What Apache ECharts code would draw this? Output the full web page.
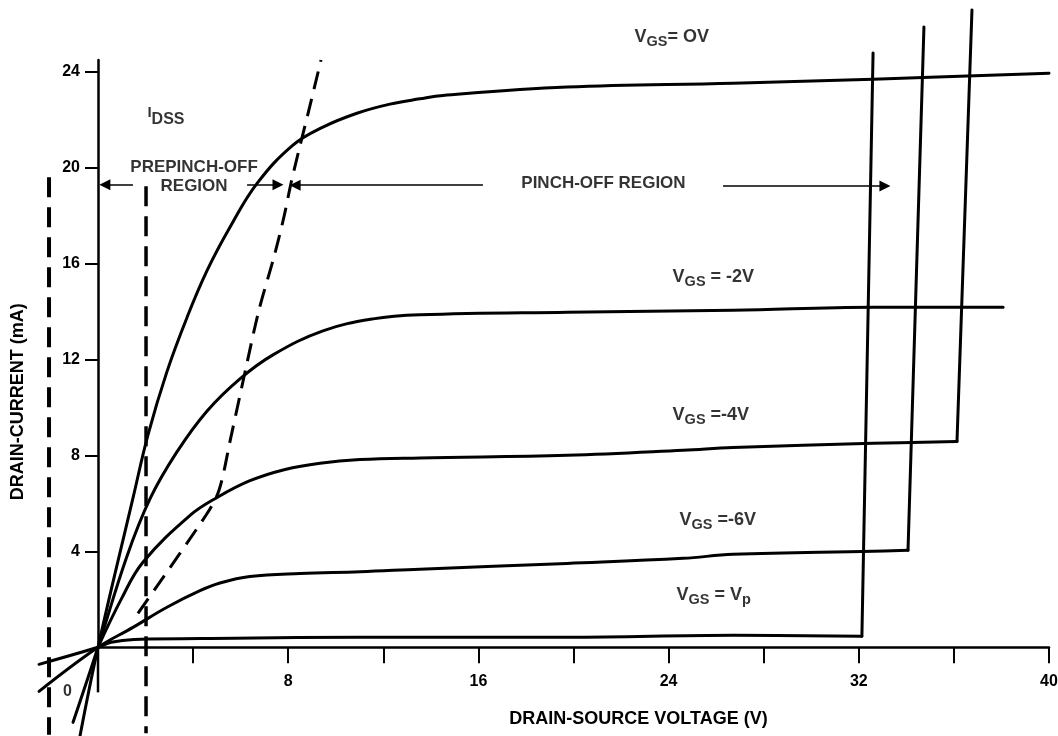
<!DOCTYPE html>
<html><head><meta charset="utf-8">
<script src="https://cdn.jsdelivr.net/npm/echarts@6/dist/echarts.min.js"></script>
<style>html,body{margin:0;padding:0;background:#fff}#c{width:1058px;height:736px}</style>
</head><body><div id="c"></div>
<script>
// ---- axis ticks ----
const xTicks = [4, 8, 12, 16, 20, 24, 28, 32, 36, 40];
const xTickLabels = [8, 16, 24, 32, 40];
const yTicks = [4, 8, 12, 16, 20, 24];

// ---- drain characteristics [Vds (V), Id (mA)] ----
const curveVgs0 = [[-0.76,-3.71],[0,0],[1.47,6.22],[2.10,8.85],[2.90,11.50],[3.74,13.75],[4.58,15.70],[5.55,17.52],[6.69,19.35],[8.20,20.95],[9.46,21.70],[10.89,22.28],[12.28,22.66],[13.54,22.88],[14.51,23.02],[19.73,23.37],[26.71,23.53],[32.60,23.70],[40.0,23.95]];
const curveVgsM2 = [[-1.05,-3.13],[0,0],[1.20,3.75],[2.19,6.20],[3.32,8.15],[4.58,9.85],[5.97,11.20],[7.36,12.20],[9.46,13.20],[11.57,13.70],[13.54,13.87],[19.73,13.98],[26.71,14.06],[32.60,14.19],[38.07,14.19]];
const curveVgsM4 = [[0,0],[1.00,2.05],[1.89,3.55],[3.87,5.50],[5.01,6.25],[6.39,6.95],[7.87,7.42],[9.34,7.68],[11.02,7.83],[13.54,7.90],[19.73,8.01],[24.61,8.22],[26.71,8.34],[32.60,8.51],[36.13,8.59]];
const curveVgsM6 = [[-2.48,-1.84],[0,0],[1.47,0.83],[2.90,1.67],[4.29,2.36],[5.13,2.68],[6.39,2.95],[8.50,3.08],[11.02,3.15],[13.54,3.26],[19.73,3.50],[24.61,3.71],[26.71,3.88],[32.60,4.01],[34.07,4.05]];
const curveVgsVp = [[-2.48,-0.71],[0,0],[0.55,0.21],[1.51,0.33],[5.72,0.38],[11.06,0.42],[19.77,0.42],[26.75,0.50],[32.13,0.46]];

// ---- breakdown rises ----
const breakdownVp = [[32.13,0.46],[32.60,24.79]];
const breakdownM6 = [[34.07,4.05],[34.74,25.88]];
const breakdownM4 = [[36.13,8.59],[36.76,26.59]];

// ---- pinch-off locus (dashed) ----
const pinchLocus = [[1.68,1.42],[4.54,5.51],[5.09,6.55],[5.59,8.77],[6.23,11.69],[6.77,14.07],[7.40,16.28],[7.82,17.95],[8.12,19.37],[8.45,20.74],[8.87,22.41],[9.38,24.50]];

// ---- dashed region boundaries ----
const dashLeft = [[-2.06,19.61],[-2.06,-3.65]];
const dashRight = [[2.02,19.23],[2.02,-3.59]];

// ---- axis extensions ----
const yAxisBelowZero = [[0,0],[0,-1.88]];

// ---- region arrows [tail, head] ----
const arrows = [
  [[1.47,19.30],[0.29,19.30]],
  [[6.27,19.30],[7.57,19.30]],
  [[16.19,19.28],[8.29,19.28]],
  [[26.29,19.24],[33.10,19.24]]
];

// ---- annotations ----
const annotations = [
  {text:'{v|V}{s|GS}{v|= OV}', at:[22.59,25.82], anchor:'topLeft'},
  {text:'{v|V}{s|GS}{v| = -2V}', at:[24.19,15.81], anchor:'topLeft'},
  {text:'{v|V}{s|GS}{v| =-4V}', at:[24.19,10.05], anchor:'topLeft'},
  {text:'{v|V}{s|GS}{v| =-6V}', at:[24.48,5.67], anchor:'topLeft'},
  {text:'{v|V}{s|GS}{v| = V}{s|p}', at:[24.35,2.54], anchor:'topLeft'},
  {text:'{i|I}{d|DSS}', at:[2.10,22.58], anchor:'topLeft'},
  {text:'{t|PREPINCH-OFF}\n{t|REGION}', at:[4.04,19.61], anchor:'center'},
  {text:'{t|PINCH-OFF REGION}', at:[21.26,19.34], anchor:'center'},
  {text:'{z|0}', at:[-1.28,-1.84], anchor:'center'}
];

const FONT = '"Liberation Sans", Arial, Helvetica, sans-serif';
const base = {fontFamily: FONT, fontWeight: 'bold', color: '#000'};

const chart = echarts.init(document.getElementById('c'), null, {renderer: 'canvas'});

function curve(name, data, extra) {
  return Object.assign({
    name, type: 'line', data, xAxisIndex: 1, yAxisIndex: 1,
    showSymbol: false, symbol: 'none', clip: false,
    smooth: 0.4, silent: true, z: 3,
    lineStyle: {color: '#000', width: 3, cap: 'round', join: 'round'}
  }, extra || {});
}

const option = {
  backgroundColor: '#fff',
  animation: false,
  grid: [
    // visible axes: x 0..40, y 0..24.5
    {left: 98, right: 9, top: 60, bottom: 88.7, outerBoundsMode: 'none', containLabel: false},
    // plotting frame with identical scale, extended to negative values
    {left: 36.19, right: 9, top: 60, bottom: 0, outerBoundsMode: 'none', containLabel: false}
  ],
  xAxis: [{
    gridIndex: 0, type: 'value', min: 0, max: 40,
    axisLine: {show: true, onZero: false, lineStyle: {color: '#000', width: 2.5}},
    axisTick: {show: true, customValues: xTicks, length: 16, lineStyle: {color: '#000', width: 2}},
    axisLabel: Object.assign({customValues: xTickLabels, margin: 26, fontSize: 16}, base),
    splitLine: {show: false},
    name: 'DRAIN-SOURCE VOLTAGE (V)', nameLocation: 'middle', nameGap: 63,
    nameTextStyle: Object.assign({fontSize: 18, padding: [0, 0, 0, 130]}, base)
  }, {
    gridIndex: 1, type: 'value', min: -2.6, max: 40, show: false
  }],
  yAxis: [{
    gridIndex: 0, type: 'value', min: 0, max: 24.5,
    axisLine: {show: true, onZero: false, lineStyle: {color: '#000', width: 2.5}},
    axisTick: {show: true, customValues: yTicks, length: 13, lineStyle: {color: '#000', width: 2}},
    axisLabel: Object.assign({customValues: yTicks, margin: 18, fontSize: 16}, base),
    splitLine: {show: false},
    name: 'DRAIN-CURRENT (mA)', nameLocation: 'middle', nameGap: 71, nameRotate: 90,
    nameTextStyle: Object.assign({fontSize: 18, padding: [0, 96, 0, 0]}, base)
  }, {
    gridIndex: 1, type: 'value', min: -3.7, max: 24.5, show: false
  }],
  series: [
    curve('y axis below zero', yAxisBelowZero, {smooth: false, lineStyle: {color: '#000', width: 2.5, cap: 'butt'}}),
    curve('VGS = 0V', curveVgs0),
    curve('VGS = -2V', curveVgsM2),
    curve('VGS = -4V', curveVgsM4),
    curve('VGS = -6V', curveVgsM6),
    curve('VGS = Vp', curveVgsVp),
    curve('breakdown Vp', breakdownVp, {smooth: false}),
    curve('breakdown -6V', breakdownM6, {smooth: false}),
    curve('breakdown -4V', breakdownM4, {smooth: false}),
    curve('pinch-off locus', pinchLocus, {smooth: 0.3, lineStyle: {color: '#000', width: 3, type: [18, 10], cap: 'butt'}}),
    curve('prepinch boundary left', dashLeft, {smooth: false, lineStyle: {color: '#000', width: 4, type: [20, 10], cap: 'butt'}}),
    curve('prepinch boundary right', dashRight, {smooth: false, lineStyle: {color: '#000', width: 3.5, type: [20, 10], cap: 'butt'}}),
    {
      name: 'annotations', type: 'scatter', xAxisIndex: 1, yAxisIndex: 1,
      clip: false, silent: true, z: 5,
      symbolSize: 1, itemStyle: {color: 'rgba(0,0,0,0)'},
      data: annotations.map(a => ({
        value: a.at,
        label: a.anchor === 'center'
          ? {position: 'inside', align: 'center', verticalAlign: 'middle'}
          : {position: [0, 0], align: 'left', verticalAlign: 'top'}
      })),
      label: {
        show: true,
        formatter: p => annotations[p.dataIndex].text,
        rich: {
          v: Object.assign({fontSize: 18, lineHeight: 20, verticalAlign: 'top'}, base),
          s: Object.assign({fontSize: 14.5, lineHeight: 20, padding: [7, 0, 0, 0], verticalAlign: 'top'}, base),
          i: Object.assign({fontSize: 15, lineHeight: 18, verticalAlign: 'top'}, base),
          d: Object.assign({fontSize: 16, lineHeight: 18, padding: [6, 0, 0, 0], verticalAlign: 'top'}, base),
          t: Object.assign({fontSize: 17, lineHeight: 19}, base),
          z: Object.assign({fontSize: 16, lineHeight: 18}, base)
        }
      },
      markLine: {
        silent: true, animation: false,
        symbol: ['none', 'triangle'], symbolSize: 11,
        label: {show: false},
        lineStyle: {color: '#000', width: 1.5, type: 'solid'},
        itemStyle: {color: '#000'},
        data: arrows.map(([a, b]) => [{coord: a}, {coord: b}])
      }
    }
  ]
};
chart.setOption(option);
</script>
</body></html>
